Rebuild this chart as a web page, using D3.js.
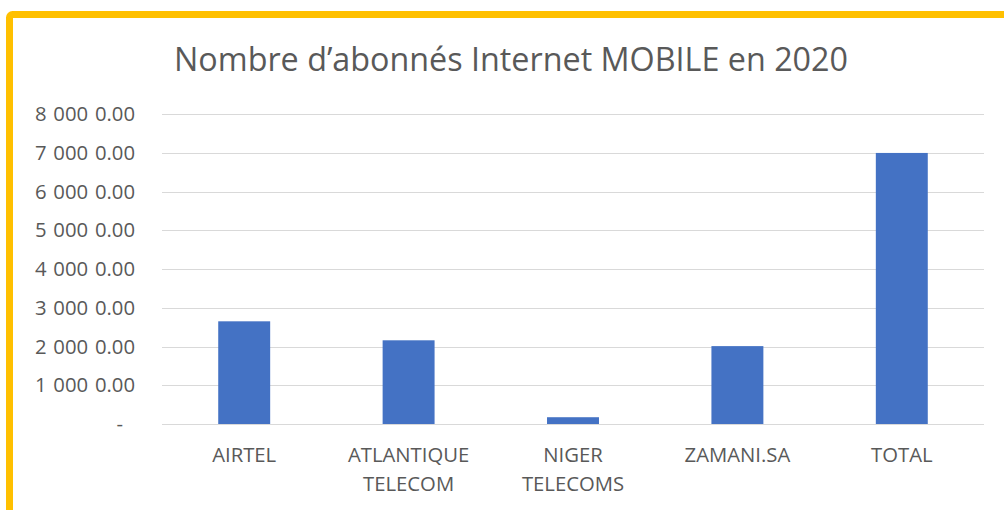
<!DOCTYPE html>
<html>
<head>
<meta charset="utf-8">
<script src="https://cdn.jsdelivr.net/npm/d3@7"></script>
<style>
  html, body { margin: 0; padding: 0; background: #fff; }
  svg { display: block; font-family: "Open Sans", "Noto Sans", sans-serif; }
</style>
</head>
<body>
<svg id="chart" width="1004" height="510"></svg>
<script>
// Chart data
const categories = [["AIRTEL"], ["ATLANTIQUE", "TELECOM"], ["NIGER", "TELECOMS"], ["ZAMANI.SA"], ["TOTAL"]];
const values = [2650, 2160, 175, 2010, 6995];
const yTicks = [0, 1000, 2000, 3000, 4000, 5000, 6000, 7000, 8000];
const yTickLabels = ["-", "1 000 0.00", "2 000 0.00", "3 000 0.00", "4 000 0.00",
  "5 000 0.00", "6 000 0.00", "7 000 0.00", "8 000 0.00"];
const title = "Nombre d\u2019abonnés Internet MOBILE en 2020";

const svg = d3.select("#chart");
const textColor = "#595959";

// Yellow frame, running off the right and bottom edges
svg.append("rect")
  .attr("x", 9.5).attr("y", 14.5)
  .attr("width", 1100).attr("height", 600)
  .attr("rx", 3)
  .attr("fill", "#fff")
  .attr("stroke", "#FFC000")
  .attr("stroke-width", 7);

const plot = { left: 162, right: 984, top: 114, bottom: 424 };

const x = d3.scaleBand()
  .domain(d3.range(categories.length))
  .range([plot.left, plot.right])
  .paddingInner(0.684)
  .paddingOuter(0.342);

const y = d3.scaleLinear()
  .domain([0, 8000])
  .range([plot.bottom, plot.top]);

// Title
svg.append("text")
  .attr("x", 511).attr("y", 71)
  .attr("text-anchor", "middle")
  .attr("fill", textColor)
  .style("font-size", "32.3px")
  .text(title);

// Gridlines
svg.append("g")
  .selectAll("line")
  .data(yTicks)
  .join("line")
  .attr("x1", plot.left).attr("x2", plot.right)
  .attr("y1", d => Math.round(y(d)) + 0.5)
  .attr("y2", d => Math.round(y(d)) + 0.5)
  .attr("stroke", "#d9d9d9")
  .attr("stroke-width", 1);

// Y axis labels
svg.append("g")
  .selectAll("text")
  .data(yTicks)
  .join("text")
  .attr("x", (d, i) => yTickLabels[i] === "-" ? 123 : 135)
  .attr("y", d => y(d))
  .attr("dy", "0.35em")
  .attr("text-anchor", "end")
  .attr("fill", textColor)
  .style("font-size", "20.3px")
  .style("word-spacing", "1.5px")
  .text((d, i) => yTickLabels[i]);

// Bars
svg.append("g")
  .selectAll("rect")
  .data(values)
  .join("rect")
  .attr("x", (d, i) => x(i))
  .attr("y", d => y(d))
  .attr("width", x.bandwidth())
  .attr("height", d => y(0) - y(d))
  .attr("fill", "#4472C4");

// Category labels
const xl = svg.append("g")
  .selectAll("text")
  .data(categories)
  .join("text")
  .attr("text-anchor", "middle")
  .attr("fill", textColor)
  .style("font-size", "20.3px");

xl.selectAll("tspan")
  .data((d, i) => d.map(t => ({ t, i })))
  .join("tspan")
  .attr("x", d => x(d.i) + x.bandwidth() / 2)
  .attr("y", (d, j) => 462 + j * 29)
  .text(d => d.t);
</script>
</body>
</html>
